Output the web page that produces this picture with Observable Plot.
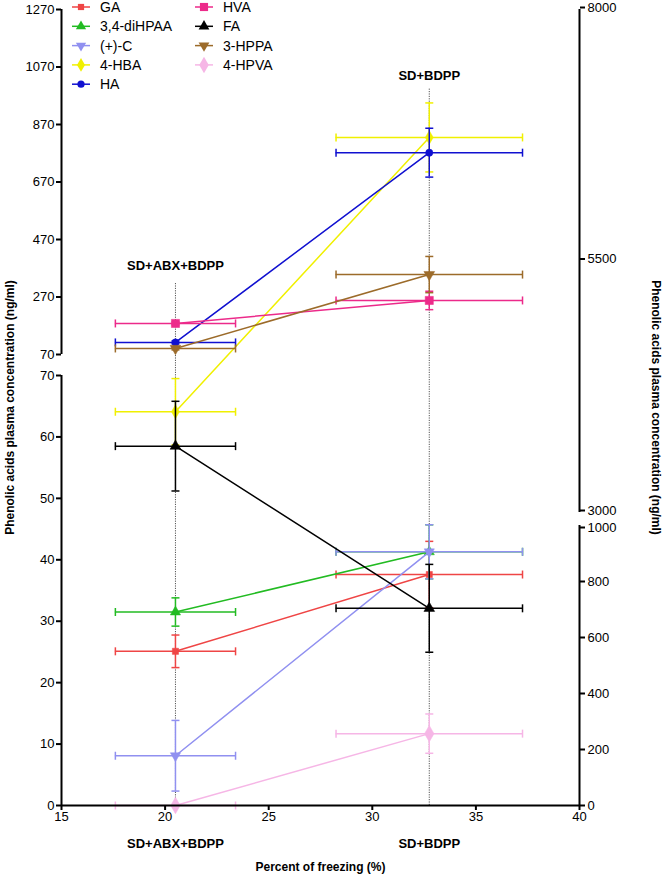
<!DOCTYPE html>
<html><head><meta charset="utf-8">
<script src="https://cdn.jsdelivr.net/npm/d3@7"></script>
<script src="https://cdn.jsdelivr.net/npm/@observablehq/plot@0.6"></script>
<style>
body{margin:0;background:#fff;font-family:"Liberation Sans",Arial,sans-serif;}
#wrap{position:relative;width:664px;height:876px;}
</style></head><body><div id="wrap"></div>
<script>
// ---------- data ----------
const series = ["GA","3,4-diHPAA","(+)-C","4-HBA","HA","HVA","FA","3-HPPA","4-HPVA"];
const colors = ["#ef4545","#22bb22","#9090f0","#f0f000","#1010d0","#ec2a8a","#000000","#9c6b2a","#f6b6e6"];
const symbols = ["square","triangle","triangle","diamond","circle","square","triangle","triangle","diamond"];
const markerRotate = [0,0,180,0,0,0,0,180,0];
const markerR = [3.5,3.8,3.8,4.2,3.6,4.6,4,4,5];
const groups = ["SD+ABX+BDPP","SD+BDPP"];
const freezing = [20.5, 32.75];
const freezingErr = [2.9, 4.5];
const concABX  = [25.1, 31.5, 8.1, 64.1, 112, 178, 58.5, 91, 0];
const errABX   = [2.65, 2.3, 5.75, 5.4, 5, 5, 7.3, 5, 0];
const concBDPP = [37.6, 41.3, 41.3, 825, 772, 258, 32.1, 348, 11.7];
const errBDPP  = [5.4, 4.4, 4.4, 120, 85, 32, 7.15, 63, 3.2];
const groupLabelAt = [380, 1040];
const groupLineTop = [320, 995];
const leftTicksLow = [0,10,20,30,40,50,60,70];
const leftTicksUp = [70,270,470,670,870,1070,1270];
const rightTicksLow = [0,200,400,600,800];
const rightTickBreakLow = [1000];
const rightTicksUp = [3000,5500,8000];
const xTicks = [15,20,25,30,35,40];
const yTitle = "Phenolic acids plasma concentration (ng/ml)";
const xTitle = "Percent of freezing (%)";

// ---------- broken-axis mapping ----------
const LOW_H = 430, GAP = 21, UP_H = 345;
const posLow = v => v / 70 * LOW_H;
const posUp = v => LOW_H + GAP + (v - 70) / 1200 * UP_H;
const pos = v => v <= 70 ? posLow(v) : posUp(v);
const rposLow = r => r / 1000 * 280;
const rposUp = r => 293 + (r - 3000) / 5000 * 503;
const TOP = posUp(1270);

const hcap = {draw(ctx, size){ const w = Math.sqrt(size/Math.PI); ctx.moveTo(-w,0); ctx.lineTo(w,0);} };
const vcap = {draw(ctx, size){ const h = Math.sqrt(size/Math.PI); ctx.moveTo(0,-h); ctx.lineTo(0,h);} };

const rows = [];
series.forEach((s,i) => {
  [[concABX, errABX],[concBDPP, errBDPP]].forEach(([c,e],g) =>
    rows.push({s, i, g, x: freezing[g], xe: freezingErr[g], v: c[i], e: e[i]}));
});

const fmt = (ticks, f) => { const m = new Map(ticks.map(t => [f(t), String(t)])); return d => m.get(d); };

const marks = [];
marks.push(Plot.ruleX([0,1], {x: g => freezing[g], y1: 0, y2: g => posUp(groupLineTop[g]),
  stroke: "#555", strokeWidth: 1, strokeDasharray: "1.2,1.2"}));

series.forEach((s,i) => {
  const d = rows.filter(r => r.i === i);
  const c = colors[i];
  const de = d.filter(r => r.e > 0);
  marks.push(
    Plot.ruleY(d, {y: r => pos(r.v), x1: r => r.x - r.xe, x2: r => r.x + r.xe, stroke: c, strokeWidth: 1.5}),
    Plot.dot(d.flatMap(r => [{x: r.x - r.xe, v: r.v}, {x: r.x + r.xe, v: r.v}]),
      {x: "x", y: r => pos(r.v), symbol: vcap, r: 4, stroke: c, strokeWidth: 1.5, fill: "none"}),
    Plot.ruleX(de, {x: "x", y1: r => pos(r.v - r.e), y2: r => pos(r.v + r.e), stroke: c, strokeWidth: 1.5}),
    Plot.dot(de.flatMap(r => [{x: r.x, v: r.v - r.e}, {x: r.x, v: r.v + r.e}]),
      {x: "x", y: r => pos(r.v), symbol: hcap, r: 4, stroke: c, strokeWidth: 1.5, fill: "none"}),
    Plot.line(d, {x: "x", y: r => pos(r.v), stroke: c, strokeWidth: 1.5}),
    Plot.dot(d, {x: "x", y: r => pos(r.v), symbol: symbols[i], r: markerR[i], fill: c, stroke: c, strokeWidth: 0.5, rotate: markerRotate[i]})
  );
});

// axes
const axOpts = {tickSize: 5, strokeWidth: 2, label: null};
marks.push(
  Plot.ruleX([15], {y1: 0, y2: posLow(70), strokeWidth: 2}),
  Plot.ruleX([15], {y1: posUp(70), y2: posUp(1270), strokeWidth: 2}),
  Plot.ruleX([40], {y1: 0, y2: rposLow(1000), strokeWidth: 2}),
  Plot.ruleX([40], {y1: rposUp(3000), y2: rposUp(8000), strokeWidth: 2}),
  Plot.ruleY([0], {x1: 15, x2: 40, strokeWidth: 2}),
  Plot.axisY(leftTicksLow.map(posLow), {...axOpts, anchor: "left", tickFormat: fmt(leftTicksLow, posLow), tickPadding: 2}),
  Plot.axisY(leftTicksUp.map(posUp), {...axOpts, anchor: "left", tickFormat: fmt(leftTicksUp, posUp), tickPadding: 2}),
  Plot.axisY(rightTicksLow.map(rposLow), {...axOpts, anchor: "right", tickFormat: fmt(rightTicksLow, rposLow), tickPadding: 3}),
  Plot.axisY(rightTickBreakLow.map(rposLow), {...axOpts, anchor: "right", tickFormat: fmt(rightTickBreakLow, rposLow), tickPadding: 3, dy: 2}),
  Plot.axisY(rightTicksUp.map(rposUp), {...axOpts, anchor: "right", tickFormat: fmt(rightTicksUp, rposUp), tickPadding: 3, dy: -2}),
  Plot.axisX(xTicks, {...axOpts, anchor: "bottom", tickPadding: 1}),
  Plot.text([0,1], {x: g => freezing[g], y: g => posUp(groupLabelAt[g]), text: g => groups[g], fontWeight: "bold", fontSize: 13}),
  Plot.text([0,1], {x: g => freezing[g], frameAnchor: "bottom", lineAnchor: "middle", dy: 38, text: g => groups[g], fontWeight: "bold", fontSize: 13}),
  Plot.text([xTitle], {frameAnchor: "bottom", lineAnchor: "middle", dy: 62, text: d => d, fontWeight: "bold", fontSize: 12}),
  Plot.text([yTitle], {frameAnchor: "left", textAnchor: "middle", lineAnchor: "middle", dx: -51, rotate: -90, text: d => d, fontWeight: "bold", fontSize: 12}),
  Plot.text([yTitle], {frameAnchor: "right", textAnchor: "middle", lineAnchor: "middle", dx: 76, rotate: 90, text: d => d, fontWeight: "bold", fontSize: 12})
);

const chart = Plot.plot({
  width: 664, height: 876,
  marginLeft: 61, marginRight: 85, marginTop: 9, marginBottom: 71,
  x: {domain: [15, 40], axis: null},
  y: {domain: [0, TOP], axis: null},
  style: {fontFamily: "'Liberation Sans', Arial, sans-serif", fontSize: "13px", background: "white", overflow: "visible", color: "black"},
  marks
});
const wrap = document.getElementById("wrap");
wrap.appendChild(chart);

// legend
const symType = {square: d3.symbolSquare, triangle: d3.symbolTriangle, diamond: d3.symbolDiamond, circle: d3.symbolCircle};
const leg = d3.create("svg").attr("width", 330).attr("height", 100)
  .style("position", "absolute").style("left", "0px").style("top", "0px")
  .style("font-family", "'Liberation Sans', Arial, sans-serif");
series.forEach((s,i) => {
  const col = i < 5 ? 0 : 1, row = i < 5 ? i : i - 5;
  const x0 = [72, 195][col], y = 7 + row * 19.3;
  const g = leg.append("g").attr("transform", `translate(${x0},${y})`);
  g.append("line").attr("x1", 0).attr("x2", 18).attr("stroke", colors[i]).attr("stroke-width", 1.5);
  g.append("path").attr("transform", `translate(9,0) rotate(${markerRotate[i]})`)
    .attr("d", d3.symbol(symType[symbols[i]], Math.PI * markerR[i] ** 2)()).attr("fill", colors[i]);
  g.append("text").attr("x", 28).attr("dy", "0.35em").style("font-size", "14px").text(s);
});
wrap.appendChild(leg.node());
</script></body></html>
